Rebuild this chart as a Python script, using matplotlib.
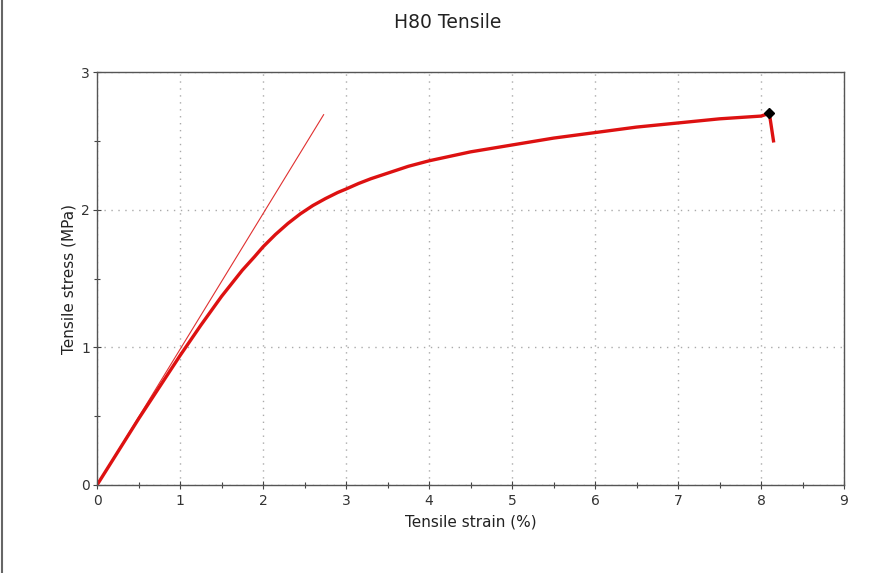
import matplotlib.pyplot as plt
from matplotlib.lines import Line2D

# curva tensão x deformação
strain = [0, 0.25, 0.5, 0.75, 1.0, 1.25, 1.5, 1.75, 1.9, 2.0, 2.15, 2.3, 2.45, 2.6,
          2.75, 2.9, 3.0, 3.15, 3.3, 3.5, 3.75, 4.0, 4.5, 5.0, 5.5, 6.0, 6.5, 7.0,
          7.5, 8.0, 8.1, 8.15]
stress = [0, 0.24, 0.48, 0.71, 0.94, 1.16, 1.37, 1.56, 1.66, 1.73, 1.82, 1.90, 1.97, 2.03,
          2.08, 2.125, 2.15, 2.19, 2.225, 2.265, 2.315, 2.355, 2.42, 2.47, 2.52, 2.56, 2.60, 2.63,
          2.66, 2.68, 2.70, 2.50]
# tangente (módulo)
tan_x = [0, 2.73]
tan_y = [0, 2.69]
# ponto de ruptura
peak_x = [8.1]
peak_y = [2.70]

fig = plt.figure(figsize=(8.96, 5.73), dpi=100)
ax = fig.add_axes([0.1083, 0.1536, 0.8337, 0.7207])

ax.plot(tan_x, tan_y, color="#e03030", lw=0.8)
ax.plot(strain, stress, color="#dd1111", lw=2.4, solid_joinstyle="round")
ax.plot(peak_x, peak_y, marker="D", color="black", ms=5, ls="none")

ax.set_xlim(0, 9)
ax.set_ylim(0, 3)
ax.set_xticks(range(0, 10))
ax.set_yticks([0, 1, 2, 3])
ax.set_xticks([i + 0.5 for i in range(9)], minor=True)
ax.set_yticks([0.5, 1.5, 2.5], minor=True)
ax.tick_params(which="major", direction="inout", length=6, width=0.8, colors="#444444",
               labelsize=10, labelcolor="#333333")
ax.tick_params(axis="y", which="major", pad=2)
ax.tick_params(which="minor", direction="inout", length=5, width=0.8, colors="#444444")
ax.grid(True, which="major", ls=(0, (1, 4)), color="#aaaaaa", lw=1)
for s in ax.spines.values():
    s.set_color("#555555")
    s.set_linewidth(1)

ax.set_xlabel("Tensile strain (%)", fontsize=11, color="#222222", labelpad=5)
ax.set_ylabel("Tensile stress (MPa)", fontsize=11, color="#222222")
ax.yaxis.set_label_coords(-0.027, 0.5)
fig.text(0.5, 0.961, "H80 Tensile", ha="center", va="center", fontsize=13.5, color="#222222")

# borda à esquerda
fig.add_artist(Line2D([0.002, 0.002], [0, 1], transform=fig.transFigure, color="#666666", lw=1.5))

plt.savefig("out.png", dpi=100)
